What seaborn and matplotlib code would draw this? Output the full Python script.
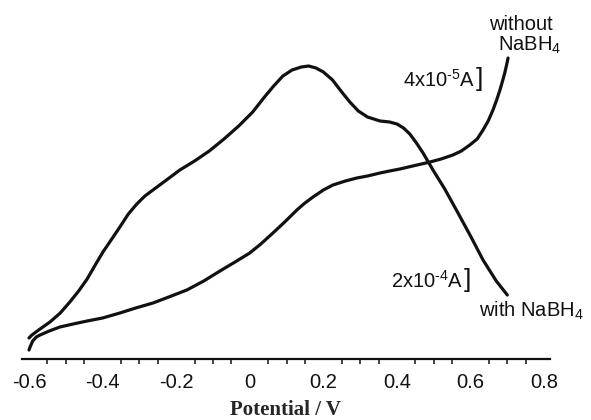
import numpy as np
import pandas as pd
import matplotlib
matplotlib.use("Agg")
import matplotlib.pyplot as plt
import seaborn as sns

# with NaBH4 (arbitrary current units)
with_x = [-0.600, -0.592, -0.570, -0.543, -0.515, -0.489, -0.465, -0.442, -0.420, -0.399,
          -0.375, -0.353, -0.330, -0.307, -0.285, -0.263, -0.230, -0.190, -0.150, -0.110,
          -0.070, -0.030, 0.008, 0.040, 0.065, 0.090, 0.115, 0.140, 0.160, 0.180,
          0.200, 0.225, 0.250, 0.272, 0.295, 0.320, 0.354, 0.380, 0.400, 0.418,
          0.435, 0.453, 0.471, 0.498, 0.530, 0.563, 0.600, 0.634, 0.670, 0.700]
with_y = [21, 24, 30, 37, 46, 57, 68, 80, 94, 107,
          120, 132, 145, 155, 163, 169, 178, 189, 198, 208,
          220, 233, 247, 262, 273, 283, 289, 292, 293, 291,
          287, 279, 267, 257, 248, 242, 238, 237, 235, 231,
          225, 216, 206, 189, 170, 148, 123, 99, 78, 64]

# without NaBH4
without_x = [-0.600, -0.597, -0.590, -0.580, -0.570, -0.545, -0.516, -0.480, -0.442, -0.400,
             -0.353, -0.310, -0.263, -0.220, -0.171, -0.125, -0.081, -0.040, 0.000, 0.030,
             0.063, 0.095, 0.128, 0.150, 0.172, 0.200, 0.226, 0.260, 0.291, 0.320,
             0.354, 0.380, 0.408, 0.443, 0.490, 0.520, 0.552, 0.575, 0.598, 0.618,
             0.634, 0.648, 0.661, 0.671, 0.680, 0.687, 0.693, 0.698, 0.702]
without_y = [9, 12, 18, 22, 24, 28, 32, 35, 38, 41,
             46, 51, 56, 62, 69, 78, 88, 97, 106, 115,
             126, 137, 149, 156, 162, 169, 174, 178, 181, 183,
             186, 188, 190, 193, 197, 200, 204, 208, 214, 220,
             229, 238, 249, 259, 269, 278, 286, 294, 301]

xticks = [-0.6, -0.4, -0.2, 0, 0.2, 0.4, 0.6, 0.8]
xtick_labels = ["-0.6", "-0.4", "-0.2", "0", "0.2", "0.4", "0.6", "0.8"]

df = pd.concat([
    pd.DataFrame({"E": with_x, "I": with_y, "s": "with"}),
    pd.DataFrame({"E": without_x, "I": without_y, "s": "without"}),
])

sns.set_style("white")
plt.rcParams["font.family"] = ["Liberation Sans", "DejaVu Sans"]
plt.rcParams["mathtext.fontset"] = "custom"
plt.rcParams["mathtext.rm"] = "Liberation Sans"

fig = plt.figure(figsize=(5.91, 4.20), dpi=100)
ax = fig.add_axes([22 / 591, 61 / 420, 528 / 591, 359 / 420])

sns.lineplot(data=df, x="E", y="I", hue="s", palette={"with": "#111111", "without": "#111111"},
             linewidth=2.3, legend=False, ax=ax, sort=False, estimator=None)
for ln in ax.lines:
    ln.set_solid_joinstyle("round")
    ln.set_solid_capstyle("round")

ax.set_xlim(-0.619, 0.816)
ax.set_ylim(0, 359)
ax.set_yticks([])
for s in ["top", "right", "left"]:
    ax.spines[s].set_visible(False)
ax.spines["bottom"].set_linewidth(1.6)
ax.spines["bottom"].set_color("#111111")
ax.set_xticks(xticks)
ax.set_xticklabels(xtick_labels, fontsize=14.5)
ax.set_xticks(np.arange(-0.6, 0.81, 0.05), minor=True)
ax.tick_params(axis="x", which="major", direction="out", length=6, width=1.4, pad=4, colors="#111111")
ax.tick_params(axis="x", which="minor", direction="out", length=3.5, width=1.2, bottom=True)
ax.set_xlabel("Potential / V", fontsize=15, fontweight="bold", family="Liberation Serif",
              labelpad=6)
ax.set_ylabel("")

def px(x):
    return -0.6 + (x - 29) / 368.0

def py(y):
    return 359 - y

tk = dict(fontsize=14.5, color="#111111", clip_on=False)
ax.text(px(553), py(25), "without", ha="right", va="center", **tk)
ax.text(px(561), py(45), "NaBH$_{4}$", ha="right", va="center", **tk)
ax.text(px(475), py(80), r"4x10$^{\text{-5}}$A", ha="right", va="center", **tk)
ax.text(px(476), py(79), "]", ha="left", va="center", fontsize=19, color="#111111",
        fontweight="light", clip_on=False)
ax.text(px(463), py(281), r"2x10$^{\text{-4}}$A", ha="right", va="center", **tk)
ax.text(px(464), py(280), "]", ha="left", va="center", fontsize=19, color="#111111",
        fontweight="light", clip_on=False)
ax.text(px(479), py(311), "with NaBH$_{4}$", ha="left", va="center", **tk)

fig.savefig("out.png", dpi=100)
